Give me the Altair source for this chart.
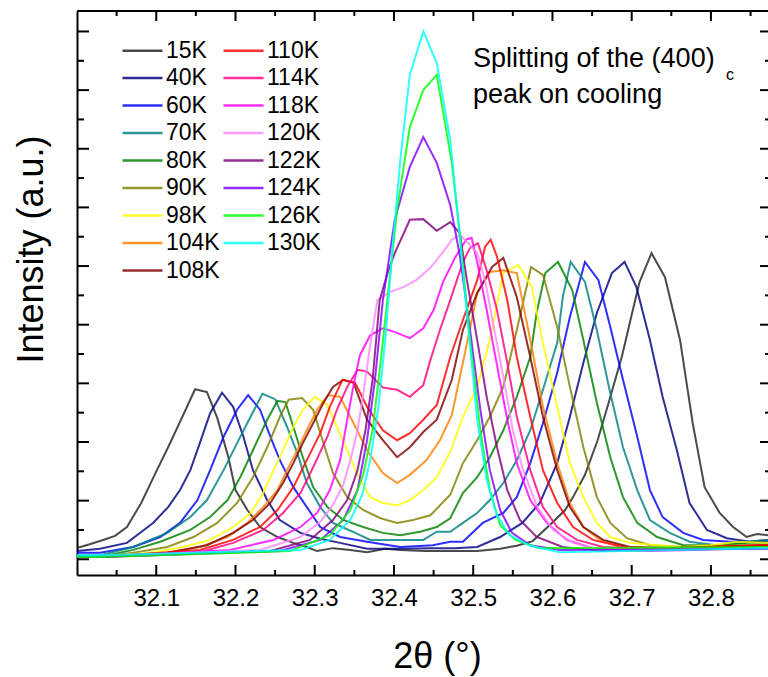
import altair as alt
import pandas as pd

FONT = "Liberation Sans"

TEMPS = ["15K", "40K", "60K", "70K", "80K", "90K", "98K", "104K", "108K",
         "110K", "114K", "118K", "120K", "122K", "124K", "126K", "130K"]
COLORS = ["#222222", "#000080", "#0000FF", "#008080", "#008000", "#808000",
          "#FFFF00", "#FF8000", "#800000", "#FF0000", "#FF0080", "#FF00FF",
          "#FF88FF", "#800080", "#8000FF", "#00FF00", "#00FFFF"]

X_MAJOR = [32.1, 32.2, 32.3, 32.4, 32.5, 32.6, 32.7, 32.8]
X_MINOR = [32.05, 32.15, 32.25, 32.35, 32.45, 32.55, 32.65, 32.75, 32.85]
Y_MAJOR = [0, 1, 2, 3, 4, 5, 6, 7, 8, 9]
Y_MINOR = [0.5, 1.5, 2.5, 3.5, 4.5, 5.5, 6.5, 7.5, 8.5]

X_15K = [32.000, 32.017, 32.033, 32.048, 32.063, 32.081, 32.099, 32.115, 32.133, 32.149, 32.164, 32.177, 32.191, 32.200, 32.215, 32.231, 32.253, 32.273, 32.290, 32.303, 32.323, 32.345, 32.366, 32.389, 32.408, 32.439, 32.471, 32.505, 32.534, 32.555, 32.575, 32.601, 32.616, 32.626, 32.641, 32.657, 32.672, 32.688, 32.700, 32.710, 32.725, 32.742, 32.761, 32.777, 32.792, 32.811, 32.828, 32.845, 32.858, 32.872]
Y_15K = [0.19, 0.26, 0.33, 0.40, 0.55, 0.96, 1.47, 1.91, 2.43, 2.90, 2.85, 2.41, 1.74, 1.18, 0.84, 0.55, 0.38, 0.28, 0.21, 0.14, 0.19, 0.16, 0.12, 0.18, 0.16, 0.14, 0.14, 0.14, 0.18, 0.23, 0.31, 0.64, 0.84, 1.06, 1.44, 2.03, 2.72, 3.48, 4.17, 4.73, 5.22, 4.81, 3.74, 2.32, 1.23, 0.79, 0.55, 0.38, 0.43, 0.41]

X_40K = [32.000, 32.029, 32.063, 32.096, 32.115, 32.130, 32.143, 32.155, 32.168, 32.183, 32.197, 32.210, 32.222, 32.240, 32.256, 32.282, 32.307, 32.332, 32.366, 32.408, 32.446, 32.477, 32.505, 32.534, 32.562, 32.584, 32.606, 32.622, 32.639, 32.656, 32.675, 32.691, 32.706, 32.723, 32.739, 32.757, 32.773, 32.795, 32.820, 32.849, 32.872]
Y_40K = [0.14, 0.18, 0.28, 0.62, 0.89, 1.18, 1.52, 1.98, 2.49, 2.84, 2.60, 2.09, 1.52, 1.01, 0.67, 0.45, 0.35, 0.28, 0.18, 0.18, 0.19, 0.19, 0.21, 0.38, 0.62, 0.96, 1.64, 2.43, 3.35, 4.20, 4.88, 5.07, 4.64, 3.74, 2.77, 1.86, 0.96, 0.50, 0.36, 0.30, 0.33]

X_60K = [32.000, 32.029, 32.071, 32.105, 32.130, 32.152, 32.168, 32.185, 32.202, 32.216, 32.231, 32.244, 32.256, 32.273, 32.290, 32.307, 32.332, 32.366, 32.408, 32.449, 32.471, 32.487, 32.512, 32.538, 32.555, 32.572, 32.588, 32.606, 32.622, 32.641, 32.658, 32.673, 32.689, 32.707, 32.723, 32.739, 32.765, 32.790, 32.824, 32.872]
Y_60K = [0.11, 0.11, 0.21, 0.38, 0.62, 1.01, 1.52, 2.09, 2.55, 2.80, 2.55, 2.09, 1.69, 1.23, 0.89, 0.55, 0.38, 0.30, 0.21, 0.24, 0.30, 0.30, 0.62, 0.79, 1.06, 1.64, 2.32, 3.18, 4.13, 5.07, 4.76, 3.96, 3.06, 2.09, 1.18, 0.72, 0.45, 0.33, 0.30, 0.30]

X_70K = [32.000, 32.029, 32.071, 32.114, 32.143, 32.164, 32.185, 32.202, 32.219, 32.234, 32.250, 32.265, 32.278, 32.290, 32.307, 32.323, 32.348, 32.370, 32.399, 32.437, 32.454, 32.471, 32.487, 32.505, 32.521, 32.538, 32.555, 32.572, 32.588, 32.606, 32.613, 32.623, 32.641, 32.656, 32.672, 32.689, 32.707, 32.723, 32.748, 32.773, 32.807, 32.849, 32.872]
Y_70K = [0.07, 0.07, 0.21, 0.45, 0.72, 1.01, 1.52, 1.98, 2.43, 2.82, 2.73, 2.26, 1.81, 1.30, 0.89, 0.62, 0.47, 0.33, 0.33, 0.33, 0.47, 0.47, 0.62, 0.79, 1.01, 1.30, 1.69, 2.20, 2.89, 3.69, 4.47, 5.07, 4.73, 3.91, 2.89, 1.91, 1.18, 0.67, 0.45, 0.30, 0.24, 0.30, 0.33]

X_80K = [32.000, 32.029, 32.071, 32.105, 32.143, 32.168, 32.190, 32.206, 32.222, 32.240, 32.253, 32.263, 32.273, 32.285, 32.298, 32.316, 32.336, 32.361, 32.386, 32.408, 32.433, 32.454, 32.471, 32.487, 32.505, 32.521, 32.538, 32.555, 32.572, 32.580, 32.591, 32.607, 32.625, 32.639, 32.656, 32.673, 32.689, 32.707, 32.732, 32.765, 32.807, 32.849, 32.872]
Y_80K = [0.04, 0.04, 0.16, 0.30, 0.50, 0.72, 1.01, 1.40, 1.86, 2.38, 2.70, 2.68, 2.26, 1.74, 1.23, 0.89, 0.67, 0.55, 0.45, 0.41, 0.47, 0.55, 0.70, 1.13, 1.40, 1.74, 2.20, 2.77, 3.45, 4.20, 4.88, 5.07, 4.59, 3.74, 2.67, 1.74, 1.06, 0.62, 0.38, 0.24, 0.24, 0.28, 0.28]

X_90K = [32.000, 32.029, 32.071, 32.114, 32.147, 32.177, 32.202, 32.222, 32.240, 32.256, 32.267, 32.284, 32.298, 32.311, 32.323, 32.341, 32.361, 32.383, 32.404, 32.424, 32.446, 32.471, 32.487, 32.505, 32.521, 32.538, 32.555, 32.573, 32.588, 32.606, 32.622, 32.639, 32.656, 32.673, 32.694, 32.723, 32.765, 32.807, 32.872]
Y_90K = [0.04, 0.04, 0.11, 0.21, 0.38, 0.62, 0.96, 1.40, 1.91, 2.43, 2.72, 2.75, 2.55, 1.98, 1.47, 1.06, 0.84, 0.70, 0.62, 0.67, 0.75, 1.10, 1.64, 2.03, 2.43, 2.94, 3.91, 4.98, 4.85, 3.96, 2.94, 1.91, 1.06, 0.62, 0.36, 0.24, 0.21, 0.24, 0.24]

X_98K = [32.000, 32.029, 32.092, 32.134, 32.168, 32.197, 32.219, 32.235, 32.248, 32.260, 32.273, 32.285, 32.300, 32.316, 32.328, 32.341, 32.353, 32.370, 32.386, 32.404, 32.420, 32.437, 32.454, 32.471, 32.487, 32.505, 32.521, 32.538, 32.557, 32.574, 32.588, 32.606, 32.622, 32.639, 32.656, 32.673, 32.698, 32.732, 32.765, 32.799, 32.833, 32.872]
Y_98K = [0.04, 0.04, 0.11, 0.21, 0.33, 0.55, 0.79, 1.13, 1.52, 1.86, 2.26, 2.55, 2.77, 2.63, 2.26, 1.86, 1.47, 1.06, 0.96, 0.92, 1.01, 1.18, 1.40, 1.83, 2.43, 2.94, 3.74, 4.88, 5.02, 4.64, 3.69, 2.60, 1.64, 1.06, 0.62, 0.38, 0.28, 0.24, 0.21, 0.24, 0.30, 0.28]

X_104K = [32.000, 32.029, 32.114, 32.155, 32.190, 32.215, 32.235, 32.253, 32.265, 32.278, 32.290, 32.303, 32.317, 32.332, 32.349, 32.366, 32.386, 32.404, 32.420, 32.441, 32.458, 32.473, 32.487, 32.505, 32.521, 32.538, 32.555, 32.572, 32.588, 32.606, 32.622, 32.639, 32.660, 32.694, 32.732, 32.790, 32.872]
Y_104K = [0.04, 0.04, 0.11, 0.21, 0.38, 0.62, 0.89, 1.18, 1.52, 1.86, 2.20, 2.55, 2.80, 2.77, 2.32, 1.86, 1.47, 1.30, 1.44, 1.69, 2.03, 2.46, 3.35, 4.54, 4.90, 4.93, 4.88, 3.74, 2.60, 1.64, 0.96, 0.55, 0.33, 0.21, 0.19, 0.21, 0.24]

X_108K = [32.000, 32.029, 32.114, 32.164, 32.197, 32.222, 32.244, 32.260, 32.273, 32.285, 32.298, 32.311, 32.323, 32.336, 32.349, 32.366, 32.386, 32.404, 32.420, 32.437, 32.454, 32.473, 32.487, 32.505, 32.524, 32.538, 32.555, 32.572, 32.588, 32.606, 32.622, 32.639, 32.664, 32.698, 32.744, 32.872]
Y_108K = [0.04, 0.04, 0.11, 0.24, 0.45, 0.67, 0.96, 1.30, 1.64, 1.98, 2.32, 2.67, 2.94, 3.06, 3.01, 2.38, 2.03, 1.74, 1.91, 2.17, 2.38, 3.06, 3.91, 4.54, 4.99, 5.14, 4.47, 3.45, 2.43, 1.52, 0.89, 0.55, 0.33, 0.21, 0.19, 0.24]

X_110K = [32.000, 32.029, 32.155, 32.197, 32.231, 32.253, 32.273, 32.290, 32.307, 32.319, 32.335, 32.351, 32.366, 32.386, 32.404, 32.420, 32.437, 32.454, 32.471, 32.487, 32.505, 32.515, 32.522, 32.530, 32.543, 32.555, 32.572, 32.588, 32.606, 32.626, 32.651, 32.689, 32.744, 32.872]
Y_110K = [0.04, 0.04, 0.16, 0.33, 0.55, 0.84, 1.23, 1.69, 2.15, 2.60, 3.06, 3.01, 2.60, 2.20, 2.03, 2.15, 2.38, 2.63, 3.45, 4.08, 4.76, 5.33, 5.45, 5.16, 4.42, 3.45, 2.43, 1.52, 0.96, 0.55, 0.33, 0.21, 0.19, 0.24]

X_114K = [32.000, 32.029, 32.155, 32.197, 32.235, 32.260, 32.282, 32.298, 32.316, 32.328, 32.341, 32.354, 32.366, 32.386, 32.404, 32.420, 32.437, 32.446, 32.458, 32.471, 32.487, 32.496, 32.506, 32.517, 32.530, 32.543, 32.555, 32.572, 32.588, 32.606, 32.631, 32.664, 32.723, 32.872]
Y_114K = [0.04, 0.04, 0.12, 0.28, 0.50, 0.79, 1.13, 1.57, 2.09, 2.55, 2.94, 3.23, 3.20, 2.93, 2.89, 2.77, 2.97, 3.40, 3.91, 4.42, 5.07, 5.31, 5.39, 4.93, 4.25, 3.35, 2.43, 1.52, 0.89, 0.55, 0.33, 0.21, 0.18, 0.21]

X_118K = [32.000, 32.029, 32.193, 32.248, 32.282, 32.303, 32.319, 32.332, 32.341, 32.349, 32.357, 32.370, 32.386, 32.404, 32.420, 32.437, 32.450, 32.462, 32.477, 32.491, 32.498, 32.505, 32.517, 32.530, 32.543, 32.555, 32.572, 32.593, 32.618, 32.651, 32.723, 32.872]
Y_118K = [0.04, 0.04, 0.16, 0.33, 0.55, 0.79, 1.18, 1.69, 2.38, 2.97, 3.48, 3.82, 3.94, 3.86, 3.77, 3.94, 4.25, 4.73, 5.14, 5.45, 5.48, 5.07, 4.25, 3.31, 2.38, 1.64, 1.01, 0.62, 0.33, 0.19, 0.14, 0.19]

X_120K = [32.000, 32.029, 32.231, 32.282, 32.307, 32.323, 32.336, 32.345, 32.354, 32.361, 32.370, 32.379, 32.395, 32.412, 32.428, 32.446, 32.462, 32.473, 32.483, 32.494, 32.505, 32.515, 32.525, 32.538, 32.550, 32.563, 32.581, 32.601, 32.626, 32.660, 32.872]
Y_120K = [0.04, 0.04, 0.16, 0.38, 0.64, 0.93, 1.27, 1.69, 2.20, 2.80, 3.65, 4.42, 4.56, 4.64, 4.76, 4.97, 5.24, 5.45, 5.53, 5.39, 5.22, 4.76, 4.03, 3.11, 2.20, 1.52, 0.89, 0.50, 0.28, 0.16, 0.19]

X_122K = [32.000, 32.029, 32.244, 32.294, 32.323, 32.341, 32.354, 32.364, 32.373, 32.382, 32.393, 32.401, 32.420, 32.437, 32.454, 32.471, 32.483, 32.492, 32.505, 32.517, 32.530, 32.543, 32.559, 32.580, 32.613, 32.660, 32.872]
Y_122K = [0.04, 0.04, 0.14, 0.33, 0.67, 1.01, 1.52, 2.20, 3.06, 4.42, 4.93, 5.22, 5.79, 5.80, 5.60, 5.75, 5.56, 4.76, 3.74, 2.77, 1.91, 1.18, 0.67, 0.38, 0.21, 0.14, 0.19]

X_124K = [32.000, 32.029, 32.256, 32.307, 32.336, 32.354, 32.366, 32.376, 32.386, 32.401, 32.420, 32.437, 32.454, 32.471, 32.483, 32.496, 32.509, 32.521, 32.534, 32.549, 32.572, 32.609, 32.872]
Y_124K = [0.04, 0.04, 0.14, 0.33, 0.67, 1.18, 2.03, 3.06, 4.42, 5.79, 6.69, 7.20, 6.76, 6.04, 5.19, 3.91, 2.55, 1.52, 0.84, 0.45, 0.24, 0.16, 0.18]

X_126K = [32.000, 32.029, 32.269, 32.319, 32.345, 32.361, 32.373, 32.382, 32.393, 32.404, 32.420, 32.437, 32.454, 32.473, 32.483, 32.496, 32.509, 32.521, 32.534, 32.553, 32.584, 32.872]
Y_126K = [0.04, 0.04, 0.14, 0.41, 0.84, 1.44, 2.20, 3.23, 4.59, 5.96, 7.37, 8.00, 8.26, 6.76, 5.56, 3.74, 2.20, 1.18, 0.58, 0.33, 0.19, 0.21]

X_130K = [32.000, 32.029, 32.282, 32.319, 32.345, 32.360, 32.370, 32.380, 32.389, 32.399, 32.408, 32.420, 32.437, 32.454, 32.471, 32.481, 32.494, 32.505, 32.517, 32.530, 32.546, 32.572, 32.609, 32.872]
Y_130K = [0.07, 0.07, 0.16, 0.33, 0.67, 1.10, 1.69, 2.55, 3.74, 5.45, 6.81, 8.26, 9.00, 8.46, 7.15, 5.79, 3.91, 2.38, 1.35, 0.75, 0.41, 0.23, 0.12, 0.19]

SERIES_X = [X_15K, X_40K, X_60K, X_70K, X_80K, X_90K, X_98K, X_104K, X_108K,
            X_110K, X_114K, X_118K, X_120K, X_122K, X_124K, X_126K, X_130K]
SERIES_Y = [Y_15K, Y_40K, Y_60K, Y_70K, Y_80K, Y_90K, Y_98K, Y_104K, Y_108K,
            Y_110K, Y_114K, Y_118K, Y_120K, Y_122K, Y_124K, Y_126K, Y_130K]

rows = []
for k, (t, xv, yv) in enumerate(zip(TEMPS, SERIES_X, SERIES_Y)):
    for x, y in zip(xv, yv):
        rows.append({"T": t, "k": k, "two_theta": x, "intensity": y})
df = pd.DataFrame(rows)

W, H = 691, 564
XDOM = [32.0, 32.872]
YDOM = [-0.268, 9.349]
xs = alt.Scale(domain=XDOM, nice=False, zero=False)
ys = alt.Scale(domain=YDOM, nice=False, zero=False)

X_AXIS = alt.Axis(values=X_MAJOR, format=".1f", ticks=False, tickSize=0, grid=False,
                  domainWidth=2, domainColor="black",
                  labelFont=FONT, labelFontSize=24, labelColor="black", labelPadding=11,
                  title="2θ (°)", titleFont=FONT, titleFontSize=36,
                  titleFontWeight="normal", titleColor="black",
                  titleX=360, titleY=92, titleAlign="center", titleBaseline="alphabetic")
Y_AXIS = alt.Axis(values=Y_MAJOR, labels=False, ticks=False, tickSize=0, grid=False,
                  domainWidth=2, domainColor="black",
                  title="Intensity (a.u.)", titleFont=FONT, titleFontSize=36,
                  titleFontWeight="normal", titleColor="black",
                  titleX=-35, titleY=238, titleAngle=270, titleAlign="center",
                  titleBaseline="alphabetic")

lines = alt.Chart(df).mark_line(strokeWidth=2, opacity=0.82, clip=True).encode(
    x=alt.X("two_theta:Q", scale=xs, axis=X_AXIS),
    y=alt.Y("intensity:Q", scale=ys, axis=Y_AXIS),
    color=alt.Color("T:N", scale=alt.Scale(domain=TEMPS, range=COLORS),
                    legend=alt.Legend(title=None, orient="none", legendX=54, legendY=28,
                                      columns=2, symbolType="M-2.667,0H2.667",
                                      symbolSize=225, symbolStrokeWidth=2.5,
                                      labelFont=FONT, labelFontSize=23, labelColor="black",
                                      labelOffset=12, rowPadding=3.5, columnPadding=-2,
                                      padding=0, labelLimit=200)),
    detail="k:O",
)

xmaj = pd.DataFrame({"v": X_MAJOR})
xmin = pd.DataFrame({"v": X_MINOR})
ymaj = pd.DataFrame({"v": Y_MAJOR})
ymin = pd.DataFrame({"v": Y_MINOR})


def xticks(d, y0, y1):
    return alt.Chart(d).mark_rule(color="black", strokeWidth=2).encode(
        x=alt.X("v:Q", scale=xs, axis=X_AXIS), y=alt.value(y0), y2=alt.value(y1))


def yticks(d, x0, x1):
    return alt.Chart(d).mark_rule(color="black", strokeWidth=2).encode(
        y=alt.Y("v:Q", scale=ys, axis=Y_AXIS), x=alt.value(x0), x2=alt.value(x1))


ticks = [
    xticks(xmaj, H, H - 10), xticks(xmin, H, H - 5),
    xticks(xmaj, 0, 10), xticks(xmin, 0, 5),
    yticks(ymaj, 0, 12), yticks(ymin, 0, 7),
    yticks(ymaj, W - 8, W), yticks(ymin, W - 3, W),
]

one = pd.DataFrame({"a": [0]})
top_line = alt.Chart(one).mark_rule(color="black", strokeWidth=2).encode(
    x=alt.value(0), x2=alt.value(W), y=alt.value(0))

note1 = alt.Chart(one).mark_text(font=FONT, fontSize=27, align="left", baseline="alphabetic",
                                 color="black").encode(
    x=alt.value(396), y=alt.value(56), text=alt.value("Splitting of the (400)"))
note_sub = alt.Chart(one).mark_text(font=FONT, fontSize=16, align="left", baseline="alphabetic",
                                    color="black").encode(
    x=alt.value(649), y=alt.value(69), text=alt.value("c"))
note2 = alt.Chart(one).mark_text(font=FONT, fontSize=27, align="left", baseline="alphabetic",
                                 color="black").encode(
    x=alt.value(396), y=alt.value(92), text=alt.value("peak on cooling"))

chart = alt.layer(lines, *ticks, top_line, note1, note_sub, note2).properties(
    width=W, height=H,
    padding={"left": 77, "top": 11, "right": 0, "bottom": 102},
    autosize=alt.AutoSizeParams(type="none"),
).configure_view(stroke=None).configure(background="white")

chart.save("out.html", embed_options={"renderer": "svg", "actions": False})
